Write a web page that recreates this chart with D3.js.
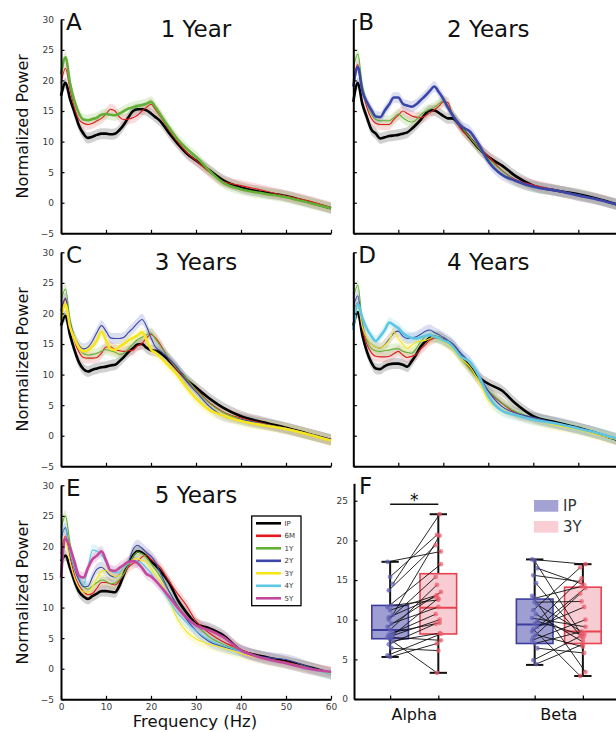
<!DOCTYPE html>
<html>
<head>
<meta charset="utf-8">
<script src="https://cdn.jsdelivr.net/npm/d3@7"></script>
<style>
  body { margin: 0; background: #fff; }
  svg { display: block; font-family: "DejaVu Sans", Verdana, sans-serif; }
</style>
</head>
<body>
<svg id="chart" width="616" height="732"></svg>
<script>
// ---------- spectra: frequency grid (Hz) ----------
const freqs = [0,1,2,3,4,5,6,7,8,9,10,11,12,13,14,15,16,17,18,19,20,21,22,24,26,28,30,33,36,40,45,50,55,60];
const groupNames = ["IP","6M","1Y","2Y","3Y","4Y","5Y"];

// 1 Year cohort
const p1_IP = [17.5,19.6,17.0,14.8,12.6,11.3,10.6,10.8,11.1,11.3,11.3,11.2,11.3,11.9,12.8,14.0,15.0,15.3,15.3,15.1,14.6,14.0,13.4,11.4,9.6,8.0,6.9,5.3,3.7,2.5,1.7,1.1,0.1,-0.9];
const p1_6M = [19.5,22.0,18.5,15.5,13.6,13.0,12.8,13.0,13.4,13.8,14.5,15.3,15.0,14.0,13.6,13.7,13.9,14.3,15.0,15.6,16.1,15.2,14.2,11.9,9.9,8.2,6.9,5.0,3.5,2.8,2.0,1.1,0.3,-0.8];
const p1_1Y = [21.0,23.8,19.6,16.6,14.6,13.6,13.5,13.7,13.9,14.4,14.5,14.4,14.3,14.6,15.0,15.4,15.6,15.8,16.0,16.2,16.5,15.6,14.5,12.3,10.3,8.8,7.5,5.2,3.3,2.2,1.5,0.9,0.0,-0.9];

// 2 Years cohort
const p2_IP = [16.5,19.6,16.2,14.0,12.0,11.3,10.5,10.7,10.9,11.0,11.1,11.3,11.5,12.1,12.8,13.6,14.5,15.1,15.1,14.7,14.2,13.8,13.8,12.3,10.5,8.8,7.5,6.1,4.4,2.8,2.0,1.4,0.5,-0.6];
const p2_6M = [20.0,22.6,18.5,15.6,13.8,13.0,12.8,12.8,12.8,13.6,14.3,15.0,14.6,14.2,14.0,13.9,14.2,14.7,15.2,15.8,16.5,16.4,14.5,12.0,10.5,9.0,7.6,5.3,3.8,2.9,2.1,1.2,0.5,-0.6];
const p2_1Y = [22.0,24.3,19.3,16.3,14.5,13.6,13.4,13.4,13.4,13.9,14.5,13.9,13.4,13.2,13.6,14.4,14.9,15.3,15.6,16.2,16.7,15.9,14.6,12.4,10.6,8.8,7.2,5.2,3.6,2.6,2.0,1.3,0.4,-0.6];
const p2_2Y = [19.0,22.2,18.3,16.5,15.2,14.1,14.0,15.1,16.1,17.2,17.2,16.2,15.9,15.7,16.1,16.8,17.5,18.3,19.0,18.1,17.0,15.6,14.4,12.5,11.6,9.4,6.8,4.6,3.6,2.6,2.0,1.2,0.4,-0.6];

// 3 Years cohort
const p3_IP = [18.0,19.6,16.5,14.0,12.0,10.9,10.5,10.8,11.0,11.2,11.3,11.5,11.6,12.2,12.9,13.7,14.3,14.9,15.0,14.4,14.0,13.9,13.6,12.3,10.7,9.1,7.9,6.1,4.6,3.2,2.2,1.3,0.3,-0.7];
const p3_6M = [20.5,22.3,18.2,15.5,13.7,12.8,12.7,12.7,12.8,13.5,14.5,14.5,14.1,13.9,13.8,13.9,14.0,14.7,15.1,16.0,16.6,16.0,15.0,12.5,10.6,9.0,7.6,5.4,3.9,2.9,2.0,1.2,0.3,-0.7];
const p3_1Y = [22.0,24.0,19.0,16.0,14.3,13.4,13.2,13.3,13.5,13.8,14.1,13.9,13.7,13.3,13.5,14.2,15.0,15.7,16.1,16.5,16.8,15.8,14.8,12.6,10.8,9.2,7.5,5.3,3.8,2.7,1.9,1.2,0.3,-0.7];
const p3_2Y = [20.5,22.5,18.6,16.2,14.8,14.2,14.5,15.5,16.9,18.0,17.1,16.0,15.9,15.9,16.1,16.9,17.6,18.4,19.0,17.9,16.0,14.5,13.9,12.6,11.0,8.8,7.2,4.8,3.3,2.7,1.9,1.2,0.3,-0.6];
const p3_3Y = [19.0,21.5,17.8,15.9,14.4,13.8,14.0,14.6,15.6,17.0,15.6,14.2,14.0,14.6,15.0,15.6,16.0,16.4,16.9,15.7,14.1,13.6,12.9,11.4,9.8,7.8,6.1,4.2,3.3,2.4,1.7,1.1,0.2,-0.8];

// 4 Years cohort
const p4_IP = [18.0,20.2,16.5,13.8,12.0,11.0,10.9,11.4,11.7,11.8,11.8,11.6,11.3,12.2,13.3,14.6,15.4,16.0,16.2,16.0,15.7,15.3,14.8,13.0,11.2,9.5,8.5,7.4,5.3,3.2,2.2,1.3,0.2,-1.0];
const p4_6M = [20.0,21.8,17.5,15.0,13.6,13.0,12.9,12.9,13.0,13.4,13.8,13.2,12.8,13.0,13.3,14.2,14.9,15.6,16.0,16.2,15.8,15.3,14.8,12.8,11.0,9.0,7.3,5.3,3.8,2.9,2.0,1.2,0.2,-0.9];
const p4_1Y = [22.5,24.6,18.6,15.6,14.3,13.9,13.8,13.9,14.0,14.2,14.2,13.8,13.6,13.5,14.3,15.4,16.2,16.4,16.3,16.2,15.7,15.1,14.6,12.6,10.8,9.0,7.4,5.4,4.0,2.9,2.0,1.2,0.3,-0.9];
const p4_2Y = [21.0,22.9,18.0,15.9,15.0,14.5,14.3,14.9,15.8,16.8,17.1,16.3,15.9,16.0,16.2,16.6,17.1,17.3,16.9,16.5,16.1,15.6,15.1,13.4,11.9,9.8,7.3,4.8,3.7,3.0,2.1,1.2,0.3,-0.8];
const p4_3Y = [20.0,21.3,17.8,16.0,15.0,14.5,14.3,14.8,15.6,17.0,15.9,15.0,14.3,14.8,15.3,15.5,15.6,15.9,16.2,15.8,15.4,15.0,14.3,12.6,11.2,8.8,5.8,4.3,3.5,2.6,1.7,1.0,0.0,-0.9];
const p4_4Y = [17.3,21.6,19.3,17.5,16.3,15.5,16.3,17.3,18.5,18.1,17.6,16.8,16.3,16.0,15.9,16.1,16.3,16.5,16.2,16.0,15.6,15.3,14.7,12.9,12.0,9.6,6.5,4.1,3.4,2.6,2.0,1.2,0.3,-0.8];

// 5 Years cohort
const p5_IP = [17.6,18.5,16.5,14.3,12.6,11.8,11.4,11.9,12.3,12.7,12.7,12.6,12.5,13.6,15.5,17.2,18.5,19.2,19.0,18.4,17.6,16.9,16.1,14.1,11.2,9.1,7.4,6.6,5.5,3.0,2.0,1.2,0.3,-0.7];
const p5_6M = [18.8,21.7,18.2,15.3,13.6,12.6,12.1,12.3,13.2,14.1,14.1,13.9,13.7,14.4,15.5,16.6,17.2,17.5,18.3,18.6,17.9,17.3,16.6,14.3,12.2,10.2,7.8,5.8,4.4,3.1,1.8,1.1,0.2,-0.6];
const p5_1Y = [23.0,25.0,20.5,17.0,14.6,13.5,13.0,13.5,14.1,14.5,14.3,13.9,14.0,14.6,15.6,17.0,18.3,19.1,18.8,18.2,17.2,16.2,15.1,12.6,10.3,8.5,7.2,5.2,4.0,2.9,1.8,1.0,0.2,-0.8];
const p5_2Y = [21.4,23.1,19.0,16.3,14.5,13.4,13.5,15.0,16.3,16.6,16.0,15.2,15.0,15.4,16.2,17.5,19.5,20.2,19.7,19.0,18.4,17.4,15.8,12.7,10.1,8.0,6.2,4.4,3.6,2.9,1.9,1.5,0.3,-0.9];
const p5_3Y = [19.5,20.8,17.4,14.8,13.2,12.6,12.5,13.4,14.8,15.9,16.1,15.6,15.1,15.3,16.4,17.3,17.8,18.0,17.7,17.4,16.3,15.4,14.4,11.3,8.0,6.0,4.9,4.0,3.4,2.5,1.6,0.9,0.0,-0.8];
const p5_4Y = [21.9,22.8,19.0,16.6,15.0,13.7,16.5,19.4,19.2,18.6,17.4,16.1,15.7,15.8,16.6,17.2,17.7,17.6,17.2,16.5,15.6,14.5,13.6,11.2,9.0,7.5,6.2,4.7,3.8,2.8,1.7,0.9,0.0,-0.9];
const p5_5Y = [14.9,21.2,19.8,17.5,15.2,14.9,16.5,17.9,18.5,19.2,17.7,16.1,16.0,16.5,17.0,17.5,17.6,17.3,16.5,15.5,15.1,14.4,13.6,11.8,9.9,8.3,7.1,6.3,5.2,3.0,1.7,0.9,0.0,-0.5];

// half-width of the shaded error band (normalized power units)
const SEM = 0.9;

// ---------- band power comparison (IP vs 3Y) ----------
const bandNames = ["Alpha","Beta"];
// box statistics: [lower whisker, Q1, median, Q3, upper whisker]
const alphaIPStats = [5.3, 7.6, 8.7, 11.8, 17.3];
const alpha3YStats = [3.3, 8.2, 11.5, 15.8, 23.3];
const betaIPStats  = [4.3, 7.0, 9.4, 12.6, 17.6];
const beta3YStats  = [2.9, 7.0, 8.5, 14.1, 17.0];
// per-subject values, paired by index
const alphaIP = [17.3,15.4,14.5,13.7,11.8,11.6,11.2,10.6,10.0,9.5,9.1,8.7,8.4,8.1,7.9,7.8,7.5,7.3,6.9,6.4,5.5,5.3,8.0,10.3];
const alpha3Y = [18.6,20.7,23.3,19.4,12.5,17.0,13.1,20.6,15.4,11.6,13.5,14.4,9.6,10.7,12.7,7.4,3.3,8.3,9.5,6.1,8.2,7.0,10.0,12.9];
const betaIP  = [17.6,17.4,16.5,15.6,14.6,13.0,12.7,11.9,11.2,10.7,10.2,9.5,9.1,8.8,8.1,7.4,7.0,6.4,4.9,4.4,8.5,12.2,9.8,7.8];
const beta3Y  = [17.0,8.1,14.4,14.8,7.6,3.4,14.2,8.3,16.6,7.2,9.1,15.2,11.6,2.9,6.6,10.0,8.5,5.8,7.9,6.9,14.0,12.3,8.0,13.3];

// ticks
const powerTicks = [-5,0,5,10,15,20,25,30];
const freqTicks = [0,10,20,30,40,50,60];
const bandTicks = [0,5,10,15,20,25];

// ---------- styling ----------
const lineColor = {IP:"#000000","6M":"#e3191f","1Y":"#62b036","2Y":"#3b47a8","3Y":"#f7e51c","4Y":"#5cc6e4","5Y":"#c5479d"};
const bandColor = {IP:"#7a7a7a","6M":"#f08a8e","1Y":"#9fcf7c","2Y":"#8a92cf","3Y":"#f7ee7a","4Y":"#9adcef","5Y":"#dc8cc2"};

const svg = d3.select("#chart");
const colX = [61, 353.3];
const rowTop = [19.3, 252.3, 485.3];
const plotW = 270, plotH = 214;

const panels = [
  {letter:"A", title:"1 Year",  col:0, row:0, data:{IP:p1_IP,"6M":p1_6M,"1Y":p1_1Y}},
  {letter:"B", title:"2 Years", col:1, row:0, data:{IP:p2_IP,"6M":p2_6M,"1Y":p2_1Y,"2Y":p2_2Y}},
  {letter:"C", title:"3 Years", col:0, row:1, data:{IP:p3_IP,"6M":p3_6M,"1Y":p3_1Y,"2Y":p3_2Y,"3Y":p3_3Y}},
  {letter:"D", title:"4 Years", col:1, row:1, data:{IP:p4_IP,"6M":p4_6M,"1Y":p4_1Y,"2Y":p4_2Y,"3Y":p4_3Y,"4Y":p4_4Y}},
  {letter:"E", title:"5 Years", col:0, row:2, data:{IP:p5_IP,"6M":p5_6M,"1Y":p5_1Y,"2Y":p5_2Y,"3Y":p5_3Y,"4Y":p5_4Y,"5Y":p5_5Y}}
];

function styleAxis(g) {
  g.select(".domain").attr("stroke", "#000").attr("stroke-width", 2);
  g.selectAll(".tick line").attr("stroke", "#000").attr("stroke-width", 1.2);
  g.selectAll(".tick text").attr("fill", "#3a3a3a").attr("font-size", 9)
    .attr("font-family", "'DejaVu Sans', Verdana, sans-serif");
}

panels.forEach(p => {
  const x0 = colX[p.col], top = rowTop[p.row];
  const x = d3.scaleLinear().domain([0, 60]).range([x0, x0 + plotW]);
  const y = d3.scaleLinear().domain([-5, 30]).range([top + plotH, top]);
  const g = svg.append("g");
  const keys = groupNames.filter(k => p.data[k]);
  const latest = keys[keys.length - 1];

  const area = d3.area().curve(d3.curveMonotoneX)
    .x((d, i) => x(freqs[i])).y0(d => y(d - SEM)).y1(d => y(d + SEM));
  const line = d3.line().curve(d3.curveMonotoneX)
    .x((d, i) => x(freqs[i])).y(d => y(d));

  keys.forEach(k => {
    g.append("path").attr("d", area(p.data[k]))
      .attr("fill", bandColor[k]).attr("fill-opacity", k === "IP" ? 0.35 : 0.3);
  });
  keys.forEach(k => {
    const thick = (k === "IP" || k === latest);
    g.append("path").attr("d", line(p.data[k]))
      .attr("fill", "none").attr("stroke", lineColor[k])
      .attr("stroke-width", thick ? 2.6 : 1.1)
      .attr("stroke-linejoin", "round");
  });

  // axes
  const yAxis = d3.axisLeft(y).tickValues(powerTicks).tickSize(-3.5).tickSizeOuter(0).tickPadding(7);
  if (p.col === 1) yAxis.tickFormat("");
  g.append("g").attr("transform", `translate(${x0},0)`).call(yAxis).call(styleAxis);

  const xAxis = d3.axisBottom(x).tickValues(freqTicks).tickSize(-3.5).tickSizeOuter(0).tickPadding(4);
  if (p.row !== 2) xAxis.tickFormat("");
  g.append("g").attr("transform", `translate(0,${top + plotH})`).call(xAxis).call(styleAxis);

  g.append("text").attr("x", x0 + 5).attr("y", top + 11)
    .attr("font-size", 23).attr("fill", "#111").text(p.letter);
  g.append("text").attr("x", x0 + plotW / 2).attr("y", top + 17.5)
    .attr("text-anchor", "middle").attr("font-size", 23).attr("fill", "#111").text(p.title);

  if (p.col === 0) {
    g.append("text")
      .attr("transform", `translate(28,${top + plotH / 2}) rotate(-90)`)
      .attr("text-anchor", "middle").attr("font-size", 16).attr("fill", "#111")
      .text("Normalized Power");
  }
  if (p.row === 2) {
    g.append("text").attr("x", x0 + plotW / 2 - 1).attr("y", 726.5)
      .attr("text-anchor", "middle").attr("font-size", 16.5).attr("fill", "#111")
      .text("Frequency (Hz)");

    // legend
    const lg = svg.append("g");
    lg.append("rect").attr("x", 251.7).attr("y", 516).attr("width", 49.3).attr("height", 89.7)
      .attr("fill", "#fff").attr("stroke", "#000").attr("stroke-width", 1.3);
    groupNames.forEach((k, i) => {
      const yy = 523.3 + i * 12.5;
      lg.append("line").attr("x1", 256).attr("x2", 281).attr("y1", yy).attr("y2", yy)
        .attr("stroke", lineColor[k]).attr("stroke-width", 2.6);
      lg.append("text").attr("x", 284.5).attr("y", yy + 2.5)
        .attr("font-size", 7).attr("fill", "#333").text(k);
    });
  }
});

// ---------- panel F ----------
const fTop = 483.3, fBottom = 699;
const xF = d3.scaleLinear().domain([0.25, 5.75]).range([354, 619]);
const yF = d3.scaleLinear().domain([0, 27.2]).range([fBottom, fTop]);
const fg = svg.append("g");

const boxSets = [
  {pos:1, stats:alphaIPStats, vals:alphaIP, fill:"#9e9ed2", stroke:"#3d3d9f", dot:"#5f5fb5"},
  {pos:2, stats:alpha3YStats, vals:alpha3Y, fill:"#f8ccd3", stroke:"#e8434f", dot:"#ef5b69"},
  {pos:4, stats:betaIPStats,  vals:betaIP,  fill:"#9e9ed2", stroke:"#3d3d9f", dot:"#5f5fb5"},
  {pos:5, stats:beta3YStats,  vals:beta3Y,  fill:"#f8ccd3", stroke:"#e8434f", dot:"#ef5b69"}
];
const boxHalf = 0.38, capHalf = 0.18;

boxSets.forEach(b => {
  const [lo, q1, med, q3, hi] = b.stats;
  fg.append("line").attr("x1", xF(b.pos)).attr("x2", xF(b.pos))
    .attr("y1", yF(lo)).attr("y2", yF(hi)).attr("stroke", "#111").attr("stroke-width", 2);
  [lo, hi].forEach(v => fg.append("line")
    .attr("x1", xF(b.pos - capHalf)).attr("x2", xF(b.pos + capHalf))
    .attr("y1", yF(v)).attr("y2", yF(v)).attr("stroke", "#111").attr("stroke-width", 2));
  fg.append("rect").attr("x", xF(b.pos - boxHalf)).attr("y", yF(q3))
    .attr("width", xF(b.pos + boxHalf) - xF(b.pos - boxHalf)).attr("height", yF(q1) - yF(q3))
    .attr("fill", b.fill).attr("stroke", b.stroke).attr("stroke-width", 1.6);
  fg.append("line").attr("x1", xF(b.pos - boxHalf)).attr("x2", xF(b.pos + boxHalf))
    .attr("y1", yF(med)).attr("y2", yF(med)).attr("stroke", b.stroke).attr("stroke-width", 2);
});

const jitter = i => ((i * 7) % 5 - 2) * 1.3;
[[boxSets[0], boxSets[1]], [boxSets[2], boxSets[3]]].forEach(([a, b]) => {
  a.vals.forEach((v, i) => {
    fg.append("line")
      .attr("x1", xF(a.pos) + jitter(i)).attr("y1", yF(v))
      .attr("x2", xF(b.pos) + jitter(i + 2)).attr("y2", yF(b.vals[i]))
      .attr("stroke", "#111").attr("stroke-width", 0.9);
  });
  [a, b].forEach((s, si) => s.vals.forEach((v, i) => {
    fg.append("circle").attr("cx", xF(s.pos) + jitter(i + si * 2)).attr("cy", yF(v)).attr("r", 2.4)
      .attr("fill", s.dot).attr("fill-opacity", 0.7);
  }));
});

const yAxisF = d3.axisLeft(yF).tickValues(bandTicks).tickSize(-3.5).tickSizeOuter(0).tickPadding(6);
fg.append("g").attr("transform", `translate(${xF(0.25)},0)`).call(yAxisF).call(styleAxis);
const xAxisF = d3.axisBottom(xF).tickValues([1, 2, 4, 5]).tickFormat("").tickSize(-3.5).tickSizeOuter(0);
fg.append("g").attr("transform", `translate(0,${fBottom})`).call(xAxisF).call(styleAxis);

bandNames.forEach((n, i) => {
  fg.append("text").attr("x", xF(1.5 + i * 3)).attr("y", 720)
    .attr("text-anchor", "middle").attr("font-size", 16).attr("fill", "#111").text(n);
});

// significance marker between IP and 3Y alpha
fg.append("line").attr("x1", xF(1)).attr("x2", xF(2)).attr("y1", 504.3).attr("y2", 504.3)
  .attr("stroke", "#111").attr("stroke-width", 1.6);
fg.append("text").attr("x", xF(1.5)).attr("y", 506).attr("text-anchor", "middle")
  .attr("font-size", 17).attr("fill", "#111").text("*");

fg.append("text").attr("x", xF(0.25) + 5).attr("y", fTop + 10.5)
  .attr("font-size", 23).attr("fill", "#111").text("F");

// legend
[["IP", "#a3a2d3"], ["3Y", "#f9ced4"]].forEach(([k, c], i) => {
  const yy = 500 + i * 21;
  fg.append("rect").attr("x", 534).attr("y", yy).attr("width", 24.3).attr("height", 11.7).attr("fill", c);
  fg.append("text").attr("x", 563).attr("y", yy + 11).attr("font-size", 15).attr("fill", "#333").text(k);
});
</script>
</body>
</html>
